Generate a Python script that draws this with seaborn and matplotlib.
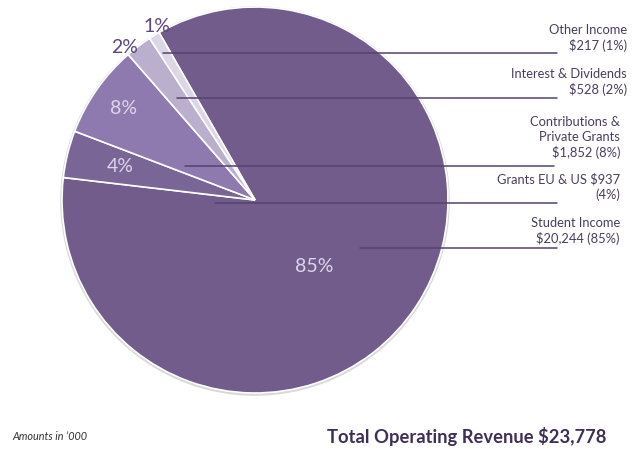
import numpy as np
import pandas as pd
import seaborn as sns
import matplotlib.pyplot as plt

# revenue data (amounts in '000)
categories = ['Student Income', 'Grants EU & US', 'Contributions & Private Grants',
              'Interest & Dividends', 'Other Income']
amounts = [20244, 937, 1852, 528, 217]
pct_labels = ['85%', '4%', '8%', '2%', '1%']
legend_texts = ['Student Income\n$20,244 (85%)',
                'Grants EU & US $937\n(4%)',
                'Contributions &\nPrivate Grants\n$1,852 (8%)',
                'Interest & Dividends\n$528 (2%)',
                'Other Income\n$217 (1%)']
colors = ['#725c8b', '#7a6597', '#8f7aaf', '#baafcc', '#dcd6e6']

df = pd.DataFrame({'category': categories, 'amount': amounts})

sns.set_theme(style='white')
plt.rcParams['font.family'] = ['Lato', 'DejaVu Sans']

W, H = 635, 449
fig = plt.figure(figsize=(W / 100, H / 100), dpi=100)
ax = fig.add_axes([0, 0, 1, 1])

cx, cy, r = 255, H - 200, 193

# faint halo around pie
ax.pie([1], colors=['#d9d9d9'], radius=r + 2.5, center=(cx, cy - 1), frame=True)
wedges, _ = ax.pie(df['amount'], colors=colors, radius=r, center=(cx, cy),
                   startangle=119.8, counterclock=False, frame=True,
                   wedgeprops=dict(edgecolor='white', linewidth=1.2))
ax.set_xlim(0, W)
ax.set_ylim(0, H)
ax.set_aspect('equal')
ax.axis('off')

# percentage labels: (radial fraction, angle override)
label_pos = [(0.46, -48.6), (0.72, None), (0.83, None), (1.04, 130.5), (1.03, 119.5)]
label_col = ['#ddd5ea', '#ddd5ea', '#ddd5ea', '#5b4878', '#5b4878']
for w, txt, (fr, ang), col in zip(wedges, pct_labels, label_pos, label_col):
    a = (w.theta1 + w.theta2) / 2 if ang is None else ang
    x = cx + fr * r * np.cos(np.radians(a))
    y = cy + fr * r * np.sin(np.radians(a))
    ax.text(x, y, txt, ha='center', va='center', fontsize=14, color=col)

# leader lines and side labels
line_y = [248, 203, 166, 98, 53]
line_x0 = [360, 215, 185, 177, 163]
line_x1 = [557, 557, 554, 557, 557]
text_right = [620, 620, 620, 627, 627]
text_bottom = [245, 201, 159, 96, 52]
for ly, x0, x1, tr, tb, txt in zip(line_y, line_x0, line_x1, text_right, text_bottom, legend_texts):
    ax.plot([x0, x1], [H - ly, H - ly], color='#55426f', lw=1.1)
    ax.text(tr, H - tb, txt, ha='right', va='bottom', fontsize=9.3,
            color='#4a3d5c', linespacing=1.3)

ax.text(12, H - 437, 'Amounts in \u2019000', ha='left', va='center',
        fontsize=7.8, style='italic', color='#333333')
ax.text(327, H - 437, 'Total Operating Revenue $23,778', ha='left', va='center',
        fontsize=13.2, fontweight='bold', color='#3f2f57')

fig.savefig('out.png', dpi=100)
